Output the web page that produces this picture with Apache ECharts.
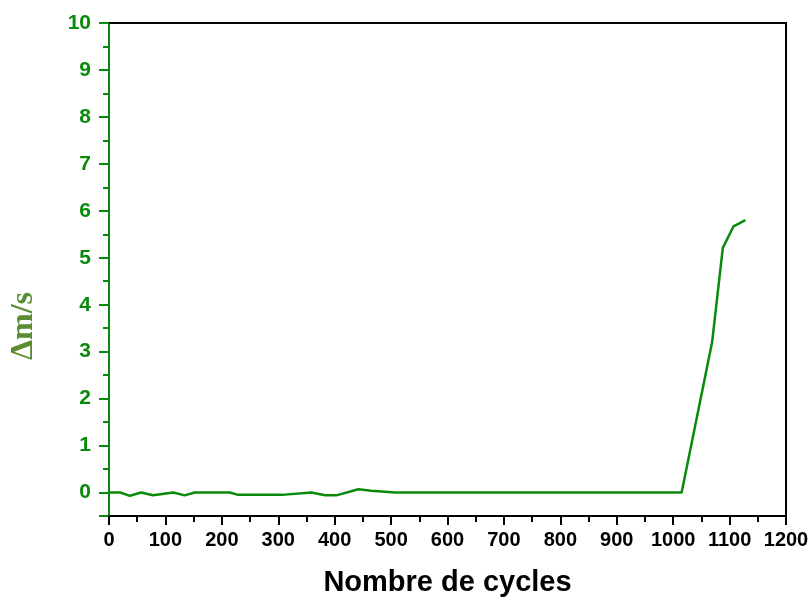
<!DOCTYPE html>
<html>
<head>
<meta charset="utf-8">
<script src="https://cdn.jsdelivr.net/npm/echarts@6/dist/echarts.min.js"></script>
<style>
  html, body { margin: 0; padding: 0; background: #ffffff; }
  #chart { width: 811px; height: 600px; }
</style>
</head>
<body>
<div id="chart"></div>
<script>
// Mass-loss rate versus number of cycles
const cycles = [0, 20, 37, 57, 78, 114, 134, 152, 214, 229, 250, 306, 359, 383, 403, 442, 465, 507, 1015, 1069, 1088, 1107, 1128];
const deltaMs = [0, 0, -0.07, 0, -0.06, 0, -0.06, 0, 0, -0.05, -0.05, -0.05, 0, -0.06, -0.06, 0.07, 0.04, 0, 0, 3.2, 5.21, 5.67, 5.8];

const xTitle = 'Nombre de cycles';
const yTitle = 'Δm/s';

const GREEN = '#0a8a0a';
const sans = '"Liberation Sans", Arial, sans-serif';
const serif = '"Liberation Serif", "Times New Roman", serif';

const points = cycles.map((c, i) => [c, deltaMs[i]]);

const chart = echarts.init(document.getElementById('chart'), null, { renderer: 'canvas' });

chart.setOption({
  backgroundColor: '#ffffff',
  animation: false,
  grid: { left: 109, right: 25, top: 23, bottom: 84, containLabel: false, outerBoundsMode: 'none' },
  graphic: [
    {
      type: 'text',
      x: 24,
      y: 326,
      rotation: Math.PI / 2,
      style: {
        text: yTitle,
        fill: '#5a8c34',
        font: 'bold 32px ' + serif,
        textAlign: 'center',
        textVerticalAlign: 'middle'
      }
    }
  ],
  xAxis: [
    {
      type: 'value',
      position: 'bottom',
      min: 0, max: 1200, interval: 100,
      name: xTitle,
      nameLocation: 'middle',
      nameGap: 52,
      nameTextStyle: { color: '#000', fontFamily: sans, fontWeight: 'bold', fontSize: 29 },
      axisLine: { show: true, onZero: false, lineStyle: { color: '#000', width: 2 } },
      axisTick: { show: true, inside: false, length: 9, lineStyle: { color: '#000', width: 2 } },
      minorTick: { show: true, splitNumber: 2, length: 6, lineStyle: { color: '#000', width: 2 } },
      axisLabel: {
        color: '#000', fontFamily: sans, fontWeight: 'bold', fontSize: 20, margin: 14,
        formatter: v => String(v)
      },
      splitLine: { show: false }
    },
    {
      type: 'value',
      position: 'top',
      min: 0, max: 1200,
      axisLine: { show: true, onZero: false, lineStyle: { color: '#000', width: 2 } },
      axisTick: { show: false },
      axisLabel: { show: false },
      splitLine: { show: false }
    }
  ],
  yAxis: [
    {
      type: 'value',
      position: 'left',
      min: -0.5, max: 10, splitNumber: 10,
      axisLine: { show: true, onZero: false, lineStyle: { color: GREEN, width: 2 } },
      axisTick: { show: true, inside: false, length: 10, lineStyle: { color: GREEN, width: 2 } },
      axisLabel: {
        color: GREEN, fontFamily: sans, fontWeight: 'bold', fontSize: 21, margin: 18,
        formatter: v => (Number.isInteger(v) ? String(v) : '')
      },
      splitLine: { show: false }
    },
    {
      // half-unit ticks on the same scale
      type: 'value',
      position: 'left',
      min: -0.5, max: 10, interval: 1,
      axisLine: { show: false },
      axisTick: { show: true, inside: false, length: 6, lineStyle: { color: GREEN, width: 2 } },
      axisLabel: { show: false },
      splitLine: { show: false }
    },
    {
      type: 'value',
      position: 'right',
      min: -0.5, max: 10,
      axisLine: { show: true, onZero: false, lineStyle: { color: '#000', width: 2 } },
      axisTick: { show: false },
      axisLabel: { show: false },
      splitLine: { show: false }
    }
  ],
  series: [
    {
      type: 'line',
      xAxisIndex: 0,
      yAxisIndex: 0,
      data: points,
      showSymbol: false,
      symbol: 'none',
      lineStyle: { color: GREEN, width: 2.5 },
      z: 3
    }
  ]
});
</script>
</body>
</html>
